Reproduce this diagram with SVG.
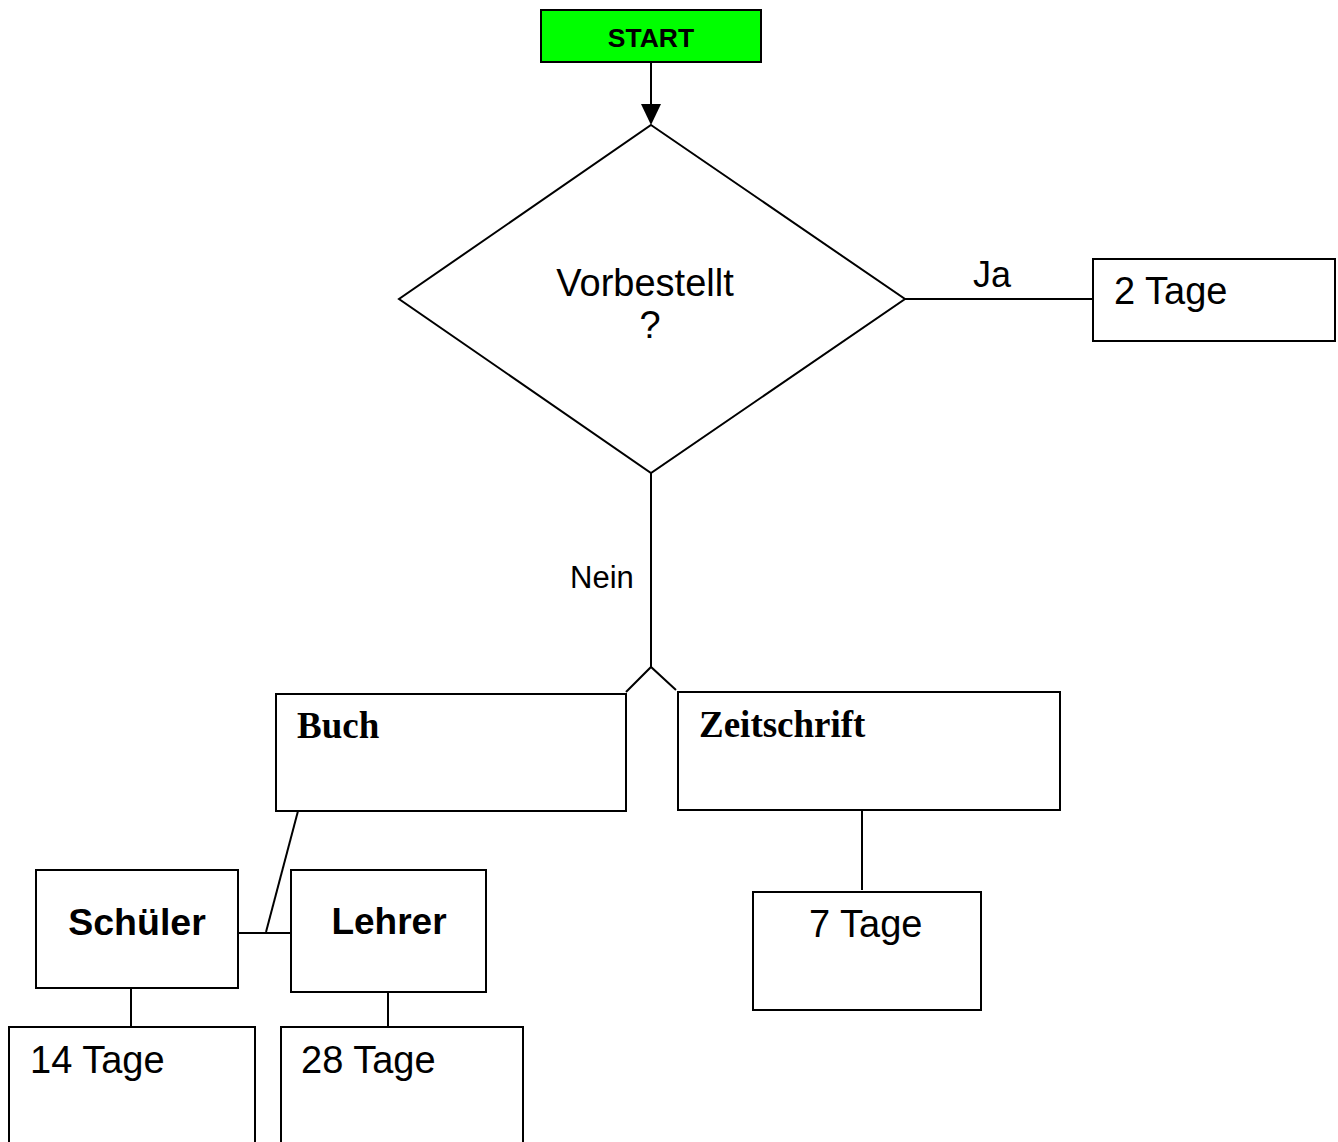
<svg xmlns="http://www.w3.org/2000/svg" width="1338" height="1142" viewBox="0 0 1338 1142">
<style>
.box{fill:#fff;stroke:#000;stroke-width:2}
.ln{stroke:#000;stroke-width:2;fill:none}
.a{font-family:"Liberation Sans",Arial,sans-serif;fill:#000}
.t{font-family:"Liberation Serif","Times New Roman",serif;font-weight:bold;fill:#000}
</style>
<rect width="1338" height="1142" fill="#fff"/>
<g id="connectors">
<line class="ln" x1="651" y1="62" x2="651" y2="105"/>
<path d="M641,104 L661,104 L651,125 z" fill="#000"/>
<line class="ln" x1="905" y1="299" x2="1093" y2="299"/>
<line class="ln" x1="651" y1="473" x2="651" y2="667"/>
<polyline class="ln" points="626,692 651,667 676,690"/>
<line class="ln" x1="862" y1="808" x2="862" y2="890"/>
<line class="ln" x1="298" y1="811" x2="266" y2="932"/>
<line class="ln" x1="238" y1="933" x2="291" y2="933"/>
<line class="ln" x1="131" y1="988" x2="131" y2="1027"/>
<line class="ln" x1="388" y1="992" x2="388" y2="1027"/>
<text class="a" x="973" y="287" font-size="36">Ja</text>
<text class="a" x="570" y="588" font-size="31">Nein</text>
</g>
<g id="start">
<rect x="541" y="10" width="220" height="52" fill="#00ff00" stroke="#000" stroke-width="2"/>
<text class="a" x="651" y="47" font-size="26.5" font-weight="bold" text-anchor="middle">START</text>
</g>
<g id="decision">
<polygon class="box" points="651,125 905,299 651,473 399,299"/>
<text class="a" x="645" y="296" font-size="38" text-anchor="middle">Vorbestellt</text>
<text class="a" x="650" y="338" font-size="38" text-anchor="middle">?</text>
</g>
<g id="tage2">
<rect class="box" x="1093" y="259" width="242" height="82"/>
<text class="a" x="1114" y="304" font-size="38">2 Tage</text>
</g>
<g id="buch">
<rect class="box" x="276" y="694" width="350" height="117"/>
<text class="t" x="297" y="738" font-size="37">Buch</text>
</g>
<g id="zeitschrift">
<rect class="box" x="678" y="692" width="382" height="118"/>
<text class="t" x="699" y="737" font-size="37">Zeitschrift</text>
</g>
<g id="tage7">
<rect class="box" x="753" y="892" width="228" height="118"/>
<text class="a" x="809" y="937" font-size="38">7 Tage</text>
</g>
<g id="schueler">
<rect class="box" x="36" y="870" width="202" height="118"/>
<text class="a" x="137" y="935" font-size="37.5" font-weight="bold" text-anchor="middle">Schüler</text>
</g>
<g id="lehrer">
<rect class="box" x="291" y="870" width="195" height="122"/>
<text class="a" x="389" y="934" font-size="37" font-weight="bold" text-anchor="middle">Lehrer</text>
</g>
<g id="tage14">
<rect class="box" x="9" y="1027" width="246" height="140"/>
<text class="a" x="30" y="1073" font-size="38">14 Tage</text>
</g>
<g id="tage28">
<rect class="box" x="281" y="1027" width="242" height="140"/>
<text class="a" x="301" y="1073" font-size="38">28 Tage</text>
</g>
</svg>
